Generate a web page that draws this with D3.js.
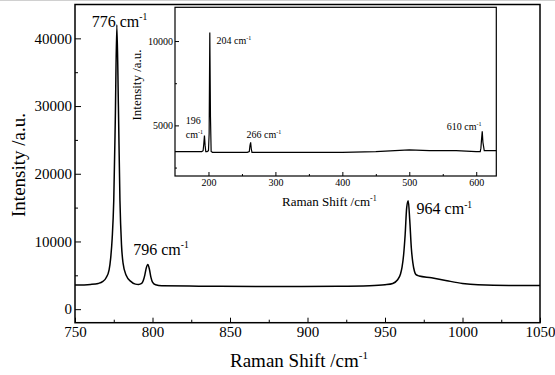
<!DOCTYPE html>
<html lang="en">
<head>
<meta charset="UTF-8">
<title>Raman spectrum</title>
<script src="https://cdn.jsdelivr.net/npm/d3@7"></script>
<style>
  html, body { margin: 0; padding: 0; background: #fff; }
  svg { display: block; font-family: "Liberation Serif", "Times New Roman", serif; }
</style>
</head>
<body>
<script>
// main spectrum
const mainShift = [750, 760, 765, 768, 770, 772, 773, 774, 775, 776, 777, 778, 779, 780, 781, 783, 786, 789, 791,
  793, 794, 795, 796, 797, 798, 799, 800, 802, 806, 830, 880, 920, 940, 950, 955, 958, 960, 961, 962, 963, 964,
  965, 966, 967, 968, 969, 970, 972, 980, 990, 1000, 1010, 1030, 1050]
const mainIntensity = [3550, 3650, 3800, 4100, 4600, 5800, 7500, 10500, 16000, 28000, 42000, 30000, 16000, 9500, 6800,
  5000, 4100, 3700, 3650, 3800, 4200, 5000, 6100, 6600, 5900, 4700, 4000, 3600, 3450, 3400, 3350, 3380, 3450, 3600,
  3800, 4300, 5200, 6200, 8000, 11000, 15000, 16000, 13000, 9000, 6800, 5600, 5100, 4900, 4650, 4200, 3800, 3600,
  3500, 3500]

// inset (low wavenumber range)
const insetShift = [150, 190, 192, 193, 194, 195, 196, 198, 200, 201, 202, 203, 204, 206, 220, 258, 261, 262, 263,
  264, 265, 300, 400, 450, 500, 530, 570, 600, 606, 607, 608, 609, 610, 612, 630]
const insetIntensity = [3450, 3450, 3500, 3900, 4400, 3800, 3450, 3450, 3500, 4500, 10500, 5500, 3450, 3400, 3400,
  3400, 3450, 3800, 4000, 3600, 3400, 3400, 3400, 3450, 3550, 3500, 3500, 3450, 3450, 3650, 4200, 4650, 4000,
  3500, 3500]

const mainXTicks = [750, 800, 850, 900, 950, 1000, 1050]
const mainYTicks = [0, 10000, 20000, 30000, 40000]
const insetXTicks = [200, 300, 400, 500, 600]
const insetYTicks = [5000, 10000]

// peak labels: [text, anchor shift, anchor intensity]
const mainLabels = [["776", 760.8, 41700], ["796", 787.6, 8070], ["964", 970.4, 14070]]
const insetLabels = [["204 cm", 212, 9800], ["266 cm", 257, 4250], ["610 cm", 556, 4740]]

const W = 555, H = 375
const svg = d3.select("body").append("svg").attr("width", W).attr("height", H)

svg.append("line").attr("x1", 0).attr("x2", W).attr("y1", 0.5).attr("y2", 0.5)
  .attr("stroke", "#d0d0d0")

const box = { l: 75, r: 540, t: 4.5, b: 322.7 }
const x = d3.scaleLinear().domain([750, 1050]).range([box.l, box.r])
const y = d3.scaleLinear().domain([-2000, 45000]).range([box.b, box.t])

const ibox = { l: 175, r: 496.3, t: 7.3, b: 176 }
const ix = d3.scaleLinear().domain([150, 630]).range([ibox.l, ibox.r])
const iy = d3.scaleLinear().domain([2000, 12000]).range([ibox.b, ibox.t])

function styleAxis(g, fs) {
  g.select(".domain").remove()
  g.selectAll("line").attr("stroke", "#000").attr("stroke-width", 1)
  g.selectAll("text").attr("font-size", fs).attr("fill", "#000")
    .attr("font-family", "Liberation Serif, serif")
}

function frame(b, sw) {
  svg.append("rect").attr("x", b.l).attr("y", b.t).attr("width", b.r - b.l).attr("height", b.b - b.t)
    .attr("fill", "none").attr("stroke", "#000").attr("stroke-width", sw)
}

// ---- main plot ----
svg.append("g").attr("transform", `translate(0,${box.b})`)
  .call(d3.axisBottom(x).tickValues(d3.range(775, 1050, 50)).tickSize(-3).tickFormat(""))
  .call(g => styleAxis(g, 15))
svg.append("g").attr("transform", `translate(0,${box.b})`)
  .call(d3.axisBottom(x).tickValues(mainXTicks).tickSize(-5).tickPadding(4).tickFormat(d3.format("d")))
  .call(g => styleAxis(g, 15))
svg.append("g").attr("transform", `translate(${box.l},0)`)
  .call(d3.axisLeft(y).tickValues(d3.range(5000, 45000, 10000)).tickSize(-3).tickFormat(""))
  .call(g => styleAxis(g, 15))
svg.append("g").attr("transform", `translate(${box.l},0)`)
  .call(d3.axisLeft(y).tickValues(mainYTicks).tickSize(-6).tickPadding(3).tickFormat(d3.format("d")))
  .call(g => styleAxis(g, 15))

const mainLine = d3.line().x((d, i) => x(mainShift[i])).y(d => y(d)).curve(d3.curveMonotoneX)
svg.append("path").attr("d", mainLine(mainIntensity))
  .attr("fill", "none").attr("stroke", "#000").attr("stroke-width", 1.5)

frame(box, 1.5)

function cmLabel(parent, px, py, num, fs) {
  const t = parent.append("text").attr("x", px).attr("y", py).attr("font-size", fs).attr("fill", "#000")
  t.append("tspan").text(num + " cm")
  t.append("tspan").attr("dy", -fs * 0.4).attr("font-size", fs * 0.6).text("-1")
  return t
}

mainLabels.forEach(d => cmLabel(svg, x(d[1]), y(d[2]), d[0], 16))

// axis titles
const xt = svg.append("text").attr("x", 230).attr("y", 367).attr("font-size", 19)
xt.append("tspan").text("Raman Shift /cm")
xt.append("tspan").attr("dy", -8).attr("font-size", 11).text("-1")
svg.append("text").attr("transform", "translate(25,165) rotate(-90)").attr("text-anchor", "middle")
  .attr("font-size", 19).text("Intensity /a.u.")

// ---- inset ----
svg.append("rect").attr("x", ibox.l).attr("y", ibox.t).attr("width", ibox.r - ibox.l).attr("height", ibox.b - ibox.t)
  .attr("fill", "#fff")
const ig = svg.append("g")
ig.append("g").attr("transform", `translate(0,${ibox.b})`)
  .call(d3.axisBottom(ix).tickValues(d3.range(250, 630, 100)).tickSize(-2).tickFormat(""))
  .call(g => styleAxis(g, 10))
ig.append("g").attr("transform", `translate(0,${ibox.b})`)
  .call(d3.axisBottom(ix).tickValues(insetXTicks).tickSize(-4).tickPadding(3).tickFormat(d3.format("d")))
  .call(g => styleAxis(g, 10))
ig.append("g").attr("transform", `translate(${ibox.l},0)`)
  .call(d3.axisLeft(iy).tickValues([2500, 7500]).tickSize(-2).tickFormat(""))
  .call(g => styleAxis(g, 10))
ig.append("g").attr("transform", `translate(${ibox.l},0)`)
  .call(d3.axisLeft(iy).tickValues(insetYTicks).tickSize(-4).tickPadding(2).tickFormat(d3.format("d")))
  .call(g => styleAxis(g, 10))

const insetLine = d3.line().x((d, i) => ix(insetShift[i])).y(d => iy(d))
ig.append("path").attr("d", insetLine(insetIntensity))
  .attr("fill", "none").attr("stroke", "#000").attr("stroke-width", 1.2)

frame(ibox, 1.2)

insetLabels.forEach(d => {
  const t = ig.append("text").attr("x", ix(d[1])).attr("y", iy(d[2])).attr("font-size", 10)
  t.append("tspan").text(d[0])
  t.append("tspan").attr("dy", -4).attr("font-size", 6).text("-1")
})
ig.append("text").attr("x", ix(166)).attr("y", iy(5100)).attr("font-size", 10).text("196")
const c196 = ig.append("text").attr("x", ix(166)).attr("y", iy(4250)).attr("font-size", 10)
c196.append("tspan").text("cm")
c196.append("tspan").attr("dy", -4).attr("font-size", 6).text("-1")

const ixt = ig.append("text").attr("x", 282).attr("y", 206).attr("font-size", 13)
ixt.append("tspan").text("Raman Shift /cm")
ixt.append("tspan").attr("dy", -5).attr("font-size", 8).text("-1")
ig.append("text").attr("transform", "translate(141,85) rotate(-90)").attr("text-anchor", "middle")
  .attr("font-size", 13).text("Intensity /a.u.")
</script>
</body>
</html>
